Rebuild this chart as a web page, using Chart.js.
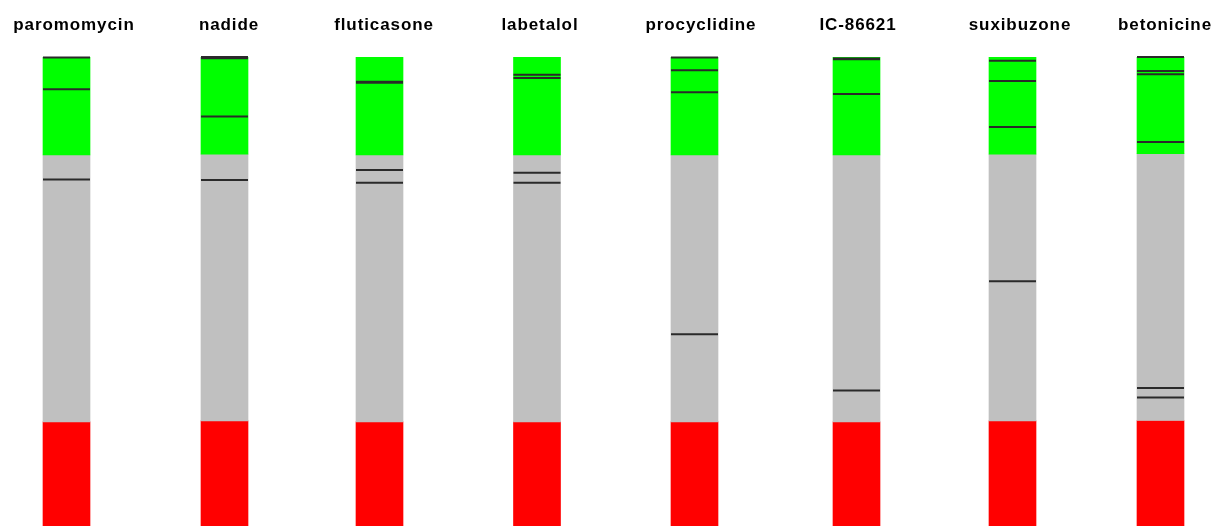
<!DOCTYPE html>
<html><head><meta charset="utf-8">
<script src="https://cdn.jsdelivr.net/npm/chart.js@4"></script>
<style>
html,body{margin:0;padding:0;background:#fff;width:1214px;height:526px;overflow:hidden;position:relative}
canvas.col{position:absolute;top:0}
</style></head><body>
<script>
// ---- data ----
const compounds = ['paromomycin','nadide','fluticasone','labetalol','procyclidine','IC-86621','suxibuzone','betonicine'];
const scaleMin = 0, scaleMax = 100;
const redTop   = [22.2, 22.4, 22.2, 22.2, 22.2, 22.2, 22.4, 22.5];
const grayTop  = [79.1, 79.3, 79.1, 79.1, 79.1, 79.1, 79.3, 79.4];
const greenTop = [100, 100, 100, 100, 100, 100, 100, 100];
const markers = [
  [99.9, 93.1, 73.9],
  [100, 99.75, 87.3, 73.8],
  [94.7, 94.5, 75.9, 73.2],
  [96.2, 95.5, 75.3, 73.2],
  [99.9, 97.2, 92.5, 40.9],
  [99.7, 99.5, 92.1, 28.9],
  [99.2, 94.9, 85.1, 52.2],
  [100, 97.0, 96.3, 81.9, 29.4, 27.4]
];
// ---- layout ----
const titleCenters = [73.5, 229, 384, 539.7, 700.7, 858, 1020.3, 1165];
const barShift = [-7, -4.5, -4.5, -2.7, -6.2, -1.5, -7.8, -4.5];
const W = 160, H = 526;

compounds.forEach((name, i) => {
  const c = document.createElement('canvas');
  c.width = W; c.height = H; c.className = 'col';
  const left = Math.round(titleCenters[i] - W / 2);
  c.style.left = left + 'px';
  document.body.appendChild(c);
  const shift = barShift[i] + (titleCenters[i] - W / 2 - left);
  new Chart(c, {
    type: 'bar',
    data: {
      labels: [name],
      datasets: [
        { type: 'scatter', data: markers[i].map(v => ({ x: name, y: v })),
          pointStyle: 'line', pointRadius: 23.5, pointBorderWidth: 2,
          pointBorderColor: '#2a2a2a', pointBackgroundColor: '#2a2a2a',
          clip: false, order: 0 },
        { data: [[grayTop[i], greenTop[i]]], backgroundColor: '#00ff00', order: 1 },
        { data: [[redTop[i], grayTop[i]]], backgroundColor: '#c0c0c0', order: 1 },
        { data: [[scaleMin, redTop[i]]], backgroundColor: '#ff0000', order: 1 }
      ]
    },
    options: {
      responsive: false, animation: false, events: [],
      datasets: { bar: { grouped: false, barThickness: 47, borderWidth: 0 } },
      layout: { padding: 0, autoPadding: false },
      plugins: {
        legend: { display: false }, tooltip: { enabled: false },
        title: { display: true, text: name, color: '#000',
          font: { family: '"Liberation Sans", Arial, sans-serif', size: 17, weight: 'bold', lineHeight: 1.2 },
          padding: { top: 14.8, bottom: 21.8 } }
      },
      scales: {
        x: { display: false, offset: true },
        y: { min: scaleMin, max: scaleMax, position: shift < 0 ? 'right' : 'left', display: true,
             grid: { display: false }, border: { display: false }, ticks: { display: false },
             afterFit: s => { s.width = Math.abs(2 * shift); } }
      }
    },
    plugins: [{ id: 'ls', beforeDraw(ch) { ch.ctx.letterSpacing = '0.9px'; } }]
  });
});
</script>
</body></html>
